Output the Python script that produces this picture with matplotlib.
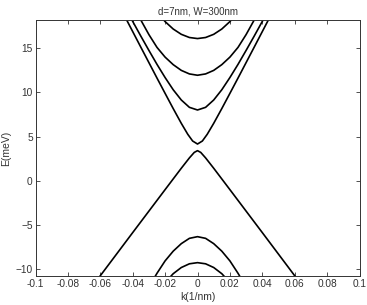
import matplotlib
matplotlib.use("Agg")
import matplotlib.pyplot as plt

plt.rcParams['font.family'] = ['Liberation Sans', 'DejaVu Sans']

# bands: k in 1/nm, E in meV
k_c1 = [-0.046, -0.04, -0.035, -0.03, -0.025, -0.02, -0.015, -0.01, -0.006, -0.003, 0.0,
        0.003, 0.006, 0.01, 0.015, 0.02, 0.025, 0.03, 0.035, 0.04, 0.046]
E_c1 = [19.0, 16.89, 15.13, 13.38, 11.63, 9.9, 8.18, 6.51, 5.27, 4.51, 4.17,
        4.51, 5.27, 6.51, 8.18, 9.9, 11.63, 13.38, 15.13, 16.89, 19.0]

k_c2 = [-0.045, -0.04, -0.035, -0.03, -0.025, -0.02, -0.015, -0.01, -0.005, 0.0,
        0.005, 0.01, 0.015, 0.02, 0.025, 0.03, 0.035, 0.04, 0.045]
E_c2 = [19.72, 18.04, 16.38, 14.76, 13.18, 11.69, 10.31, 9.15, 8.32, 8.02,
        8.32, 9.15, 10.31, 11.69, 13.18, 14.76, 16.38, 18.04, 19.72]

k_c3 = [-0.04, -0.035, -0.03, -0.025, -0.02, -0.015, -0.01, -0.005, 0.0,
        0.005, 0.01, 0.015, 0.02, 0.025, 0.03, 0.035, 0.04]
E_c3 = [19.9, 18.2, 16.55, 15.1, 14.0, 13.15, 12.5, 12.1, 11.95,
        12.1, 12.5, 13.15, 14.0, 15.1, 16.55, 18.2, 19.9]

k_c4 = [-0.025, -0.02, -0.015, -0.01, -0.005, 0.0, 0.005, 0.01, 0.015, 0.02, 0.025]
E_c4 = [19.1, 18.02, 17.18, 16.58, 16.22, 16.1, 16.22, 16.58, 17.18, 18.02, 19.1]

k_v1 = [-0.065, -0.06, -0.05, -0.04, -0.03, -0.02, -0.01, -0.005, -0.002, 0.0,
        0.002, 0.005, 0.01, 0.02, 0.03, 0.04, 0.05, 0.06, 0.065]
E_v1 = [-11.94, -10.73, -8.29, -5.85, -3.42, -0.99, 1.43, 2.6, 3.22, 3.42,
        3.22, 2.6, 1.43, -0.99, -3.42, -5.85, -8.29, -10.73, -11.94]

k_v2 = [-0.03, -0.025, -0.02, -0.015, -0.01, -0.005, 0.0, 0.005, 0.01, 0.015, 0.02, 0.025, 0.03]
E_v2 = [-12.0, -10.45, -9.05, -7.95, -7.1, -6.5, -6.31, -6.5, -7.1, -7.95, -9.05, -10.45, -12.0]

k_v3 = [-0.02, -0.015, -0.01, -0.005, 0.0, 0.005, 0.01, 0.015, 0.02]
E_v3 = [-11.5, -10.5, -9.8, -9.38, -9.25, -9.38, -9.8, -10.5, -11.5]

xticks = [-0.1, -0.08, -0.06, -0.04, -0.02, 0, 0.02, 0.04, 0.06, 0.08, 0.1]
xlabels = ['-0.1', '-0.08', '-0.06', '-0.04', '-0.02', '0', '0.02', '0.04', '0.06', '0.08', '0.1']
yticks = [-10, -5, 0, 5, 10, 15]

fig = plt.figure(figsize=(3.67, 3.05), dpi=100)
ax = fig.add_axes([35.5 / 367, 1 - 276 / 305, 324 / 367, 256 / 305])

for k, E in [(k_c1, E_c1), (k_c2, E_c2), (k_c3, E_c3), (k_c4, E_c4),
             (k_v1, E_v1), (k_v2, E_v2), (k_v3, E_v3)]:
    ax.plot(k, E, color='black', lw=1.2)

ax.set_xlim(-0.1, 0.1)
ax.set_ylim(-10.76, 18.2)
ax.set_xticks(xticks)
ax.set_xticklabels(xlabels)
ax.set_yticks(yticks)
ax.tick_params(direction='in', length=3, width=0.6, top=True, right=True,
               labelsize=7.3, colors='#333333', pad=2)
for s in ax.spines.values():
    s.set_linewidth(0.7)
    s.set_color('#333333')

ax.set_title("d=7nm, W=300nm", fontsize=7, color='#333333', pad=4)
ax.set_xlabel("k(1/nm)", fontsize=7.5, color='#333333', labelpad=2)
ax.set_ylabel("E(meV)", fontsize=7.5, color='#333333', labelpad=3)

fig.savefig("out.png", dpi=100)
